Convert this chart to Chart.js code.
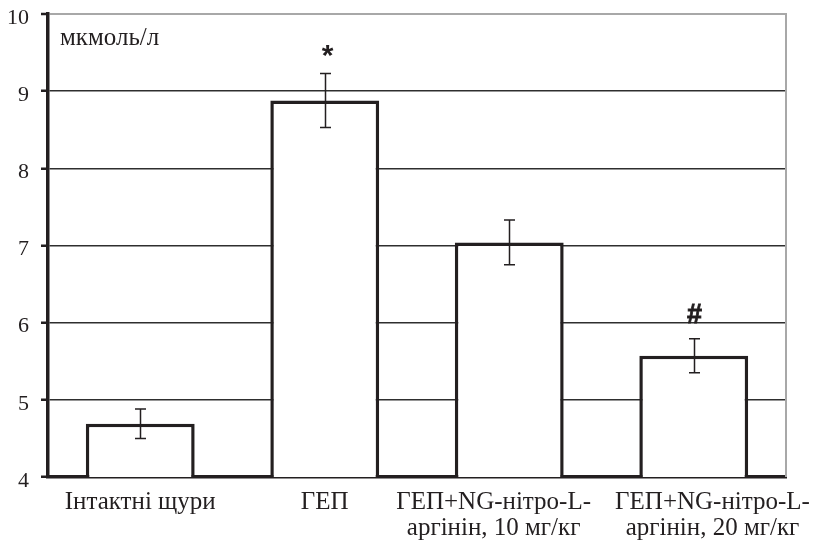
<!DOCTYPE html>
<html>
<head>
<meta charset="utf-8">
<script src="https://cdn.jsdelivr.net/npm/chart.js@4/dist/chart.umd.min.js"></script>
<style>
  html, body { margin: 0; padding: 0; background: #ffffff; }
  #wrap { width: 813px; height: 542px; }
</style>
</head>
<body>
<div id="wrap"><canvas id="chart" width="813" height="542"></canvas></div>
<script>
// ---- data ----
const categories = [
  "Інтактні щури",
  "ГЕП",
  "ГЕП+NG-нітро-L- аргінін, 10 мг/кг",
  "ГЕП+NG-нітро-L- аргінін, 20 мг/кг"
];
const categoryLines = [
  ["Інтактні щури"],
  ["ГЕП"],
  ["ГЕП+NG-нітро-L-", "аргінін, 10 мг/кг"],
  ["ГЕП+NG-нітро-L-", "аргінін, 20 мг/кг"]
];
const meanValues  = [4.69, 8.88, 7.04, 5.57];
const errorValues = [0.19, 0.35, 0.29, 0.22];
const significanceMarks = ["", "*", "", "#"];
const yTickValues = [4, 5, 6, 7, 8, 9, 10];
const unitLabel = "мкмоль/л";

// ---- layout / style (not data) ----
const INK = '#231f20';
const SERIF = "'Liberation Serif', 'Times New Roman', serif";
const SANS = "'Liberation Sans', Arial, sans-serif";
// horizontal nudge of category labels, in spaces (neg = shift left)
const labelNudgeSpaces = [0, 0, -5, 6];

const overlayPlugin = {
  id: 'overlay',
  beforeDatasetsDraw(chart) {
    const { ctx, chartArea } = chart;
    ctx.save();
    ctx.strokeStyle = '#a8a8a8';
    ctx.lineWidth = 2;
    ctx.beginPath();
    ctx.moveTo(chartArea.right, chartArea.top - 1);
    ctx.lineTo(chartArea.right, chartArea.bottom);
    ctx.stroke();
    ctx.restore();
  },
  afterDatasetsDraw(chart) {
    const { ctx, chartArea } = chart;
    const y = chart.scales.y;
    const meta = chart.getDatasetMeta(0);
    ctx.save();
    ctx.strokeStyle = INK;
    ctx.fillStyle = INK;
    ctx.lineWidth = 1.5;
    meta.data.forEach((bar, i) => {
      const cx = Math.round(bar.x) + 0.5;
      const yTop = y.getPixelForValue(meanValues[i] + errorValues[i]);
      const yBot = y.getPixelForValue(meanValues[i] - errorValues[i]);
      ctx.beginPath();
      ctx.moveTo(cx, yTop); ctx.lineTo(cx, yBot);
      ctx.moveTo(cx - 5.5, yTop); ctx.lineTo(cx + 5.5, yTop);
      ctx.moveTo(cx - 5.5, yBot); ctx.lineTo(cx + 5.5, yBot);
      ctx.stroke();
      const mark = significanceMarks[i];
      if (mark) {
        ctx.font = (mark === '*' ? 'bold 30px ' : 'bold 27px ') + SANS;
        ctx.textAlign = 'center';
        ctx.textBaseline = 'alphabetic';
        const m = ctx.measureText(mark);
        ctx.fillText(mark, cx + (mark === '*' ? 2 : 0), yTop - 16 - m.actualBoundingBoxDescent);
        if (mark === '#') {
          ctx.lineWidth = 0.8;
          ctx.strokeText(mark, cx, yTop - 16 - m.actualBoundingBoxDescent);
          ctx.lineWidth = 1.5;
        }
      }
    });
    // unit label
    ctx.font = '25px ' + SERIF;
    ctx.textAlign = 'left';
    ctx.textBaseline = 'alphabetic';
    ctx.fillText(unitLabel, chartArea.left + 12, chartArea.top + 31);
    ctx.restore();
  }
};

new Chart(document.getElementById('chart'), {
  type: 'bar',
  data: {
    labels: categories,
    datasets: [{
      data: meanValues,
      backgroundColor: '#ffffff',
      borderColor: INK,
      borderWidth: 3.5,
      barPercentage: 0.59,
      categoryPercentage: 1.0
    }]
  },
  options: {
    responsive: false,
    animation: false,
    devicePixelRatio: 1,
    layout: { padding: { top: 14, right: 27, left: 0, bottom: 0 } },
    plugins: { legend: { display: false }, tooltip: { enabled: false } },
    scales: {
      x: {
        type: 'category',
        offset: true,
        grid: { display: false, drawTicks: false },
        border: { display: true, color: INK, width: 3.5 },
        ticks: {
          autoSkip: false,
          maxRotation: 0,
          minRotation: 0,
          padding: 12,
          color: INK,
          font: { family: SERIF, size: 25, lineHeight: 1.04 },
          callback: function (value, index) {
            const n = labelNudgeSpaces[index] || 0;
            const pad = ' '.repeat(Math.abs(n));
            return categoryLines[index].map(l => n < 0 ? l + pad : pad + l);
          }
        },
        afterFit(scale) { scale.height = 65; scale.paddingLeft = 0; scale.paddingRight = 0; }
      },
      y: {
        min: yTickValues[0],
        max: yTickValues[yTickValues.length - 1],
        afterBuildTicks(scale) { scale.ticks = yTickValues.map(v => ({ value: v })); },
        ticks: {
          stepSize: 1,
          padding: 12,
          labelOffset: 4,
          color: INK,
          font: { family: SERIF, size: 22 }
        },
        grid: {
          color: (c) => (c.tick && c.tick.value === 10) ? '#a8a8a8' : '#2e2e2e',
          lineWidth: (c) => (c.tick && c.tick.value === 10) ? 2 : 1.5,
          drawTicks: true,
          tickLength: 7,
          tickColor: INK,
          tickWidth: 2.5
        },
        border: { display: true, color: INK, width: 3.5 },
        afterFit(scale) { scale.width = 48; scale.paddingTop = 0; scale.paddingBottom = 0; }
      }
    }
  },
  plugins: [overlayPlugin]
});
</script>
</body>
</html>
